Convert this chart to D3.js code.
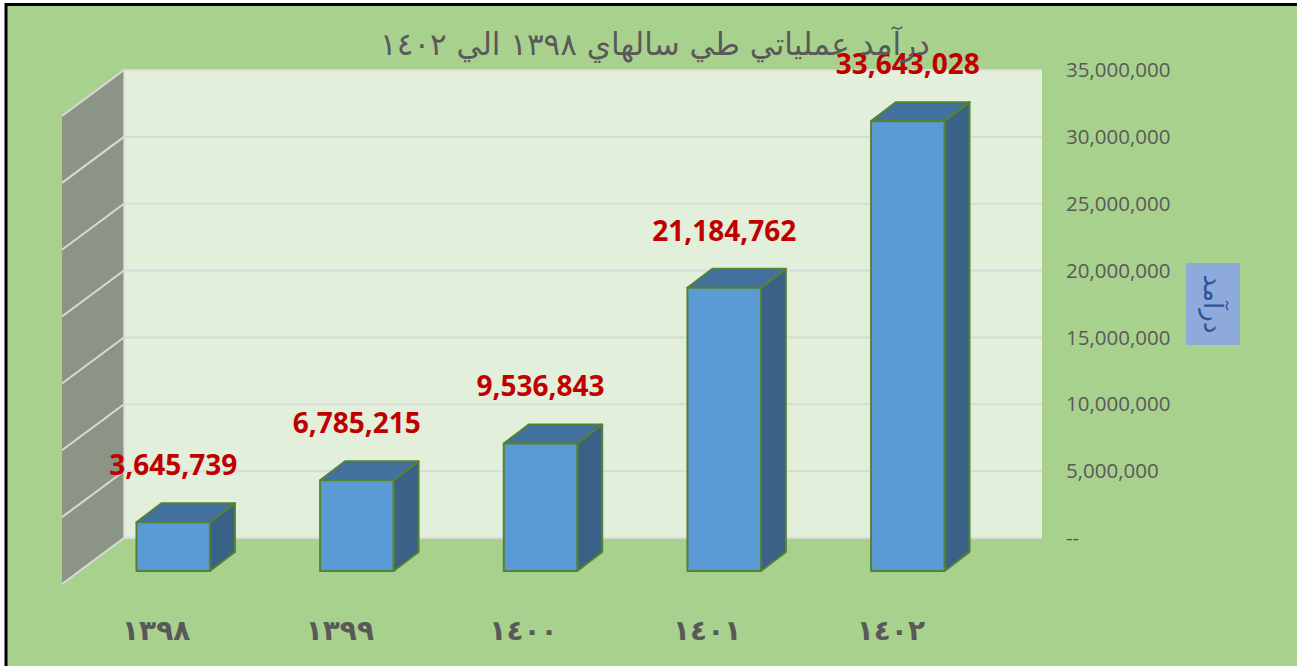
<!DOCTYPE html>
<html>
<head>
    <meta charset="utf-8">
    <title>Revenue 3D Columns</title>
    <script src="https://d3js.org/d3.v7.min.js"></script>
    <style>
        body { margin: 0; background: #fff; }
        text { font-family: "Open Sans", "DejaVu Sans", sans-serif; }
    </style>
</head>
<body>
    <svg width="1297" height="666"></svg>
    <script>
        // data
        const years = ["١٣٩٨", "١٣٩٩", "١٤٠٠", "١٤٠١", "١٤٠٢"]
        const revenue = [3645739, 6785215, 9536843, 21184762, 33643028]
        const tickValues = [0, 5e6, 10e6, 15e6, 20e6, 25e6, 30e6, 35e6]
        const title = "درآمد عملياتي طي سالهاي ١٣٩٨ الي ١٤٠٢"
        const axisTitle = "درآمد"

        const svg = d3.select("svg")

        // background + border
        svg.append("rect")
            .attr("x", 6).attr("y", 4.5)
            .attr("width", 1300).attr("height", 670)
            .attr("fill", "#a9d18e")
            .attr("stroke", "#000").attr("stroke-width", 3)

        // 3d geometry
        const wallLeft = 124, wallRight = 1042
        const sideDx = -62, sideDy = 46      // side wall depth
        const barDx = 25, barDy = -19        // bar depth
        const frontShift = 33                // front plane sits lower than the back wall

        const yBack = d3.scaleLinear().domain([0, 35e6]).range([538, 70])
        const yFront = v => yBack(v) + frontShift

        const x = d3.scaleBand()
            .domain(years)
            .range([63, 1018])
            .paddingInner(0.6)
            .paddingOuter(0.4)

        // back wall
        svg.append("rect")
            .attr("x", wallLeft).attr("y", yBack(35e6))
            .attr("width", wallRight - wallLeft)
            .attr("height", yBack(0) - yBack(35e6))
            .attr("fill", "#e2efda")

        // side wall
        svg.append("path")
            .attr("d", `M${wallLeft},${yBack(35e6)} L${wallLeft + sideDx},${yBack(35e6) + sideDy} L${wallLeft + sideDx},${yBack(0) + sideDy} L${wallLeft},${yBack(0)} Z`)
            .attr("fill", "#8c9485")

        // gridlines on both walls
        const grid = svg.append("g")
        tickValues.forEach(v => {
            const yy = yBack(v)
            grid.append("path")
                .attr("d", `M${wallLeft + sideDx},${yy + sideDy} L${wallLeft},${yy} L${wallRight},${yy}`)
                .attr("fill", "none")
                .attr("stroke", "#d9d9d9")
                .attr("stroke-width", 2)
        })
        // wall corner edge
        svg.append("line")
            .attr("x1", wallLeft).attr("x2", wallLeft)
            .attr("y1", yBack(35e6)).attr("y2", yBack(0))
            .attr("stroke", "#d9d9d9").attr("stroke-width", 1.5)

        // value axis labels on the right
        const axisG = svg.append("g")
        axisG.selectAll("text")
            .data(tickValues)
            .join("text")
            .attr("x", 1066)
            .attr("y", d => yBack(d))
            .attr("dy", "0.35em")
            .attr("font-size", 20.5)
            .attr("fill", "#595959")
            .text(d => d === 0 ? "--" : d3.format(",")(d))

        // axis title box
        svg.append("rect")
            .attr("x", 1186).attr("y", 263)
            .attr("width", 54).attr("height", 82)
            .attr("fill", "#8eaadb")
        svg.append("text")
            .attr("transform", "translate(1213,304) rotate(90)")
            .attr("text-anchor", "middle")
            .attr("dy", "0.35em")
            .attr("font-size", 26)
            .attr("fill", "#2f5597")
            .style("font-family", "'DejaVu Sans', sans-serif")
            .text(axisTitle)

        // bars
        const bars = svg.append("g")
            .selectAll("g")
            .data(years.map((y, i) => ({ year: y, value: revenue[i] })))
            .join("g")

        bars.each(function (d) {
            const g = d3.select(this)
            const x0 = x(d.year), x1 = x0 + x.bandwidth()
            const yt = yFront(d.value), yb = yFront(0)
            const edge = { stroke: "#548235", "stroke-width": 2, "stroke-linejoin": "round" }
            const side = g.append("path")
                .attr("d", `M${x1},${yt} L${x1 + barDx},${yt + barDy} L${x1 + barDx},${yb + barDy} L${x1},${yb} Z`)
                .attr("fill", "#3a6186")
            const top = g.append("path")
                .attr("d", `M${x0},${yt} L${x0 + barDx},${yt + barDy} L${x1 + barDx},${yt + barDy} L${x1},${yt} Z`)
                .attr("fill", "#41719c")
            const front = g.append("rect")
                .attr("x", x0).attr("y", yt)
                .attr("width", x1 - x0).attr("height", yb - yt)
                .attr("fill", "#5b9bd5")
            ;[side, top, front].forEach(s => Object.entries(edge).forEach(([k, v]) => s.attr(k, v)))

            g.append("text")
                .attr("x", (x0 + x1) / 2)
                .attr("y", yt + barDy - 28)
                .attr("text-anchor", "middle")
                .attr("font-size", 28)
                .attr("font-weight", "bold")
                .attr("fill", "#c00000")
                .text(d3.format(",")(d.value))
        })

        // category labels
        svg.append("g")
            .selectAll("text")
            .data(years)
            .join("text")
            .attr("x", d => x(d) + x.bandwidth() / 2 - 17)
            .attr("y", 640)
            .attr("text-anchor", "middle")
            .attr("font-size", 28)
            .attr("font-weight", "bold")
            .attr("letter-spacing", 11)
            .attr("fill", "#595959")
            .style("font-family", "'DejaVu Sans', sans-serif")
            .text(d => d)

        // title
        svg.append("text")
            .attr("x", 655)
            .attr("y", 55)
            .attr("text-anchor", "middle")
            .attr("font-size", 31)
            .attr("fill", "#595959")
            .style("font-family", "'DejaVu Sans', sans-serif")
            .text(title)
    </script>
</body>
</html>
